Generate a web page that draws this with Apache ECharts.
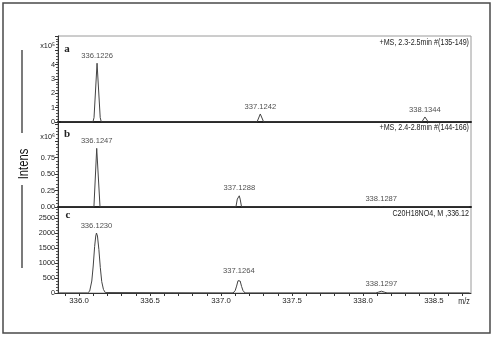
<!DOCTYPE html>
<html><head><meta charset="utf-8">
<script src="https://cdn.jsdelivr.net/npm/echarts@6/dist/echarts.min.js"></script>
<style>html,body{margin:0;padding:0;background:#fff}#c{width:493px;height:337px}</style>
</head><body><div id="c"></div>
<script>
// ---- data ----
// Panel a profile (m/z, intensity x10^5)
const mzA = [335.90, 336.097, 336.104, 336.1226, 336.142, 336.149, 337.104, 337.1242, 337.145, 338.115, 338.1344, 338.155, 338.41];
const intA = [0, 0, 0.3, 4.1, 0.3, 0, 0, 0.56, 0, 0, 0.35, 0, 0];
const peaksA = [336.1226, 337.1242, 338.1344];
const peakIntA = [4.1, 0.56, 0.35];

// Panel b profile (m/z, intensity x10^6)
const mzB = [335.86, 336.105, 336.1247, 336.148, 337.105, 337.115, 337.1288, 337.135, 337.145, 338.110, 338.1287, 338.145, 338.75];
const intB = [0, 0, 0.89, 0, 0, 0.12, 0.17, 0.12, 0, 0, 0.005, 0, 0];
const peaksB = [336.1247, 337.1288, 338.1287];
const peakIntB = [0.89, 0.17, 0.005];

// Panel c simulated isotope pattern (C20H18NO4)
const mzC = [335.86, 336.060, 336.075, 336.090, 336.100, 336.110, 336.118, 336.123, 336.130, 336.140, 336.150, 336.160, 336.172, 336.185, 336.195,
             337.085, 337.100, 337.110, 337.120, 337.1264, 337.135, 337.145, 337.155, 337.170,
             338.090, 338.110, 338.1297, 338.150, 338.170, 338.75];
const intC = [0, 0, 60, 400, 900, 1550, 1900, 2000, 1900, 1450, 850, 380, 120, 15, 0,
              0, 80, 230, 410, 470, 400, 220, 80, 0,
              0, 30, 60, 30, 0, 0];
const peaksC = [336.1230, 337.1264, 338.1297];
const peakIntC = [2000, 470, 60];

// axis ticks
const xTickValues = [335.9, 336.0, 336.1, 336.2, 336.3, 336.4, 336.5, 336.6, 336.7, 336.8, 336.9, 337.0, 337.1, 337.2, 337.3, 337.4, 337.5, 337.6, 337.7, 337.8, 337.9, 338.0, 338.1, 338.2, 338.3, 338.4, 338.5, 338.6, 338.7];
const xLabelValues = [336.0, 336.5, 337.0, 337.5, 338.0, 338.5];
const yTicksA = ['0', '1', '2', '3', '4', 'x10⁵'];
const yTicksB = ['0.00', '0.25', '0.50', '0.75', 'x10⁶'];
const yTicksC = ['0', '500', '1000', '1500', '2000', '2500'];
const headerTexts = ['+MS, 2.3-2.5min #(135-149)', '+MS, 2.4-2.8min #(144-166)', 'C20H18NO4, M ,336.12'];
const panelLetters = ['a', 'b', 'c'];

// ---- chart ----
const FONT = '"Liberation Sans", Arial, sans-serif';
const chart = echarts.init(document.getElementById('c'), null, {renderer: 'canvas'});
const zip = (xs, ys) => xs.map((x, i) => [x, ys[i]]);

const grids = [
  {left: 58, top: 36, width: 413, height: 86},
  {left: 58, top: 122, width: 413, height: 85},
  {left: 58, top: 207, width: 413, height: 86}
].map(g => Object.assign(g, {show: true, borderColor: '#9a9a9a', borderWidth: 1, containLabel: false}));

const xMinBC = 335.852, xMaxBC = 338.761;
const xMinA = 335.883, xMaxA = 338.417;

const xAxes = [
  {gridIndex: 0, type: 'value', min: xMinA, max: xMaxA, axisLine: {lineStyle: {color: '#222', width: 2}}, axisTick: {show: false}, axisLabel: {show: false}, splitLine: {show: false}},
  {gridIndex: 1, type: 'value', min: xMinBC, max: xMaxBC, axisLine: {lineStyle: {color: '#222', width: 2}}, axisTick: {show: false}, axisLabel: {show: false}, splitLine: {show: false}},
  {gridIndex: 2, type: 'value', min: xMinBC, max: xMaxBC,
    axisLine: {lineStyle: {color: '#333', width: 1}},
    axisTick: {show: true, length: 3, customValues: xTickValues, lineStyle: {color: '#333'}},
    axisLabel: {show: true, customValues: xLabelValues, formatter: v => v.toFixed(1), fontFamily: FONT, fontSize: 7.8, color: '#222', margin: 4},
    splitLine: {show: false}}
];

function yAxis(gi, max, interval, labels) {
  return {gridIndex: gi, type: 'value', min: 0, max: max, interval: interval,
    axisLine: {show: true, lineStyle: {color: '#333', width: 1}},
    axisTick: {show: true, length: 3, lineStyle: {color: '#333'}},
    minorTick: {show: true, splitNumber: 5, length: 2, lineStyle: {color: '#555'}},
    splitLine: {show: false},
    axisLabel: {fontFamily: FONT, fontSize: 7.3, color: '#222', margin: 3,
      formatter: v => {
        const k = Math.round(v / interval);
        if (Math.abs(v - k * interval) > 1e-6) return '';
        const t = labels[k];
        if (t === undefined) return '';
        if (t.startsWith('x10')) return '{e|' + t + '}';
        return t;
      },
      rich: {e: {fontFamily: FONT, fontSize: 7.3, color: '#222', padding: [0, 0, 8, 0]}}
    }};
}
const yAxes = [
  yAxis(0, 6, 1, yTicksA),
  yAxis(1, 1.29, 0.25, yTicksB),
  yAxis(2, 2867, 500, yTicksC)
];

const lineStyle = {color: '#444', width: 1};
function profile(i, xs, ys) {
  return {type: 'line', xAxisIndex: i, yAxisIndex: i, data: zip(xs, ys), showSymbol: false, symbol: 'none',
    lineStyle: lineStyle, animation: false, z: 2, smooth: false};
}
function peakLabels(i, xs, ys) {
  return {type: 'scatter', xAxisIndex: i, yAxisIndex: i, data: xs.map((x, k) => ({value: [x, ys[k]], name: x.toFixed(4)})),
    symbolSize: 1, itemStyle: {color: 'rgba(0,0,0,0)'}, animation: false, silent: true,
    label: {show: true, position: 'top', distance: 3, formatter: p => p.name, fontFamily: FONT, fontSize: 7.6, color: '#222'}};
}

const SX = 0.84;
const graphics = [
  {type: 'rect', shape: {x: 3, y: 3, width: 487, height: 330}, style: {fill: null, stroke: '#4a4a4a', lineWidth: 1.5}, silent: true},
  {type: 'line', shape: {x1: 22, y1: 50, x2: 22, y2: 133}, style: {stroke: '#222', lineWidth: 1.2}},
  {type: 'line', shape: {x1: 22, y1: 185, x2: 22, y2: 268}, style: {stroke: '#222', lineWidth: 1.2}},
  {type: 'text', x: 24, y: 164, rotation: Math.PI / 2, scaleX: 0.8, style: {text: 'Intens', font: '14px ' + FONT, fill: '#111', align: 'center', verticalAlign: 'middle'}},
  {type: 'text', x: 464, y: 302, scaleX: SX, style: {text: 'm/z', font: '8.5px ' + FONT, fill: '#222', align: 'center', verticalAlign: 'middle'}},
  {type: 'text', x: 469, y: 43, scaleX: SX, style: {text: headerTexts[0], font: '8.5px ' + FONT, fill: '#222', align: 'right', verticalAlign: 'middle'}},
  {type: 'text', x: 469, y: 128, scaleX: SX, style: {text: headerTexts[1], font: '8.5px ' + FONT, fill: '#222', align: 'right', verticalAlign: 'middle'}},
  {type: 'text', x: 469, y: 214, scaleX: SX, style: {text: headerTexts[2], font: '8.5px ' + FONT, fill: '#222', align: 'right', verticalAlign: 'middle'}},
  {type: 'text', x: 67, y: 49, style: {text: panelLetters[0], font: 'bold 11px "Liberation Serif", serif', fill: '#222', align: 'center', verticalAlign: 'middle'}},
  {type: 'text', x: 67, y: 134, style: {text: panelLetters[1], font: 'bold 11px "Liberation Serif", serif', fill: '#222', align: 'center', verticalAlign: 'middle'}},
  {type: 'text', x: 68, y: 215, style: {text: panelLetters[2], font: 'bold 11px "Liberation Serif", serif', fill: '#222', align: 'center', verticalAlign: 'middle'}}
];

chart.setOption({
  animation: false,
  backgroundColor: '#fff',
  grid: grids,
  xAxis: xAxes,
  yAxis: yAxes,
  series: [
    profile(0, mzA, intA), profile(1, mzB, intB), profile(2, mzC, intC),
    peakLabels(0, peaksA, peakIntA), peakLabels(1, peaksB, peakIntB), peakLabels(2, peaksC, peakIntC)
  ],
  graphic: graphics
});
</script></body></html>
